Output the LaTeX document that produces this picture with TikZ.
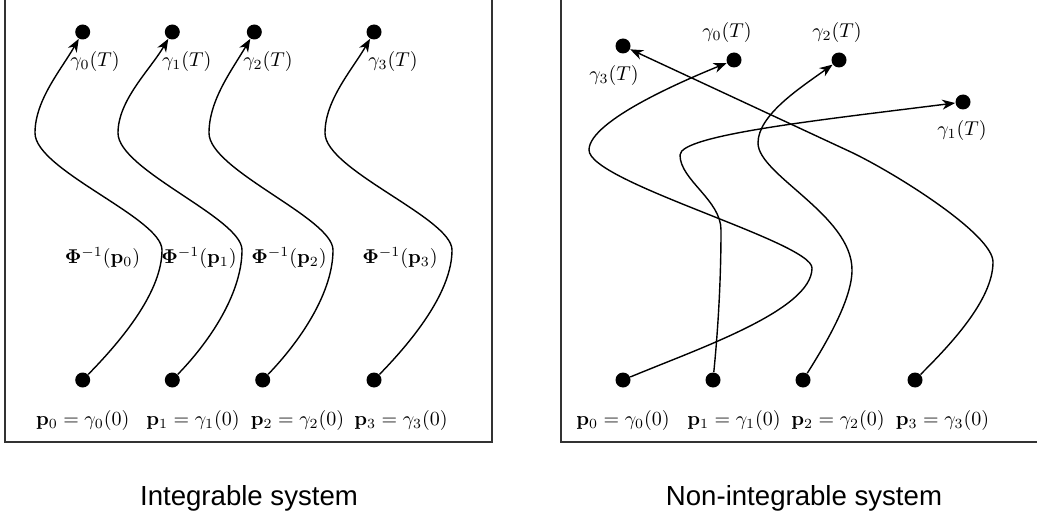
\documentclass[tikz,border=0pt]{standalone}
\usepackage[no-math]{fontspec}
\newfontfamily\legendefont{Liberation Sans}
\usepackage{tikz}
\usetikzlibrary{arrows.meta}

\begin{document}
\begin{tikzpicture}[
  x=0.5pt, y=-0.5pt,
  point/.style={
    circle, fill=black, inner sep=0pt, minimum size=7.5pt
  },
  etiquette/.style={inner sep=0pt},
  trajet/.style={
    arrows={-Stealth[length=6.5pt, width=5pt, inset=2pt]},
    line width=0.7pt
  },
  cadre/.style={draw=black!80, line width=1pt},
  legende/.style={
    font=\legendefont\fontsize{13.8}{16}\selectfont, inner sep=0pt
  }
]
\useasboundingbox (0,0) rectangle (1037,518);

% ----- Cadres -----
\draw[cadre] (5,0) |- (492,442) -- (492,0);
\draw[cadre] (561,0) |- (1037,442);

% ----- Systeme integrable -----
\node[point] (ia0) at (82.7,32) {};
\node[point] (ia1) at (172.3,32) {};
\node[point] (ia2) at (254.3,32) {};
\node[point] (ia3) at (374,32) {};

\node[point] (id0) at (82.7,380) {};
\node[point] (id1) at (172.3,380) {};
\node[point] (id2) at (262.7,380) {};
\node[point] (id3) at (374,380) {};

\node[etiquette] (ig0) at (95,62) {$\gamma_0(T)$};
\node[etiquette] (ig1) at (186.7,62) {$\gamma_1(T)$};
\node[etiquette] (ig2) at (268,62) {$\gamma_2(T)$};
\node[etiquette] (ig3) at (393,62) {$\gamma_3(T)$};

\node[etiquette] (iphi0) at (102.5,258) {$\mathbf{\Phi}^{-1}(\mathbf{p}_0)$};
\node[etiquette] (iphi1) at (199,258) {$\mathbf{\Phi}^{-1}(\mathbf{p}_1)$};
\node[etiquette] (iphi2) at (289,258) {$\mathbf{\Phi}^{-1}(\mathbf{p}_2)$};
\node[etiquette] (iphi3) at (400,258) {$\mathbf{\Phi}^{-1}(\mathbf{p}_3)$};

\node[etiquette] (ip0) at (82.7,420) {$\mathbf{p}_0=\gamma_0(0)$};
\node[etiquette] (ip1) at (193,420) {$\mathbf{p}_1=\gamma_1(0)$};
\node[etiquette] (ip2) at (297.5,420) {$\mathbf{p}_2=\gamma_2(0)$};
\node[etiquette] (ip3) at (401,420) {$\mathbf{p}_3=\gamma_3(0)$};

\draw[trajet] (id0) .. controls (125,337) and (162,290) .. (162,250)
  .. controls (162,218) and (35,170) .. (35,133)
  .. controls (35,100) and (61,70) .. (ia0);
\draw[trajet] (id1) .. controls (214,337) and (242,290) .. (242,250)
  .. controls (242,218) and (118,170) .. (118,133)
  .. controls (118,100) and (150,70) .. (ia1);
\draw[trajet] (id2) .. controls (304,337) and (333,290) .. (333,250)
  .. controls (333,218) and (209,170) .. (209,133)
  .. controls (209,100) and (232,70) .. (ia2);
\draw[trajet] (id3) .. controls (416,337) and (452,290) .. (452,250)
  .. controls (452,218) and (325,170) .. (325,133)
  .. controls (325,100) and (352,70) .. (ia3);

\node[legende] (cap1) at (249,498) {Integrable system};

% ----- Systeme non integrable -----
\node[point] (na3) at (623,46) {};
\node[point] (na0) at (734,60) {};
\node[point] (na2) at (839,60) {};
\node[point] (na1) at (963,102) {};

\node[point] (nd0) at (623,380) {};
\node[point] (nd1) at (713,380) {};
\node[point] (nd2) at (803,380) {};
\node[point] (nd3) at (915,380) {};

\node[etiquette] (ng3) at (614,76) {$\gamma_3(T)$};
\node[etiquette] (ng0) at (727,33) {$\gamma_0(T)$};
\node[etiquette] (ng2) at (837,33) {$\gamma_2(T)$};
\node[etiquette] (ng1) at (962,131) {$\gamma_1(T)$};

\node[etiquette] (np0) at (623,420) {$\mathbf{p}_0=\gamma_0(0)$};
\node[etiquette] (np1) at (734,420) {$\mathbf{p}_1=\gamma_1(0)$};
\node[etiquette] (np2) at (838,420) {$\mathbf{p}_2=\gamma_2(0)$};
\node[etiquette] (np3) at (942.5,420) {$\mathbf{p}_3=\gamma_3(0)$};

\draw[trajet] (nd0) .. controls (700,348) and (812,310) .. (812,268)
  .. controls (812,242) and (589,182) .. (589,150)
  .. controls (589,120) and (690,78) .. (na0);
\draw[trajet] (nd1) .. controls (718,330) and (721,280) .. (721,230)
  .. controls (721,200) and (680,180) .. (680,155)
  .. controls (680,135) and (820,120) .. (na1);
\draw[trajet] (nd2) .. controls (825,345) and (852,300) .. (852,270)
  .. controls (852,215) and (758,175) .. (758,143)
  .. controls (758,115) and (800,88) .. (na2);
\draw[trajet] (nd3) .. controls (950,345) and (993,300) .. (993,262)
  .. controls (993,235) and (900,176) .. (853,153) -- (na3);

\node[legende] (cap2) at (804,498) {Non-integrable system};

\end{tikzpicture}
\end{document}
